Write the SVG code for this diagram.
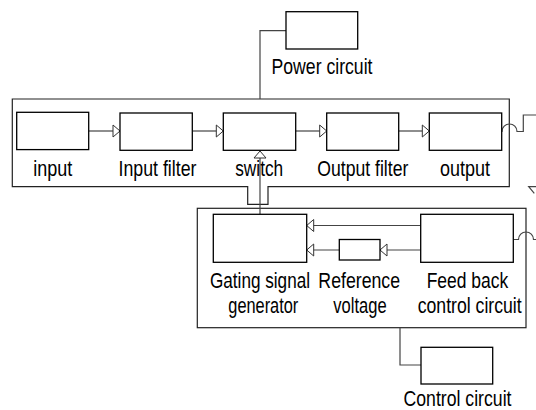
<svg xmlns="http://www.w3.org/2000/svg" width="536" height="410" viewBox="0 0 536 410">
<style>
.box{fill:#fff;stroke:#000;stroke-width:1.3}
.cont{fill:none;stroke:#222;stroke-width:1.2}
.ln{fill:none;stroke:#444;stroke-width:1.2}
.lbl{font-family:"Liberation Sans",Arial,sans-serif;font-size:21.5px;fill:#000;text-anchor:middle}
</style>
<defs>
<marker id="ah" markerUnits="userSpaceOnUse" markerWidth="10" markerHeight="15" refX="8" refY="7" orient="auto" viewBox="0 0 10 15">
<path d="M1,1 L8,7 L1,13 Z" fill="#fff" stroke="#333" stroke-width="1"/>
</marker>
</defs>
<rect width="536" height="410" fill="#fff"/>
<g id="power-container">
<path class="cont" d="M12.3,99 H509.3 V186.7 H268 V204.3 H247.7 V186.7 H12.3 Z"/>
</g>
<g id="control-container">
<rect class="cont" x="197.3" y="208.3" width="328.7" height="119.4"/>
</g>
<g id="connectors">
<path class="ln" d="M88.7,131 H120" marker-end="url(#ah)"/>
<path class="ln" d="M192.3,131 H223.3" marker-end="url(#ah)"/>
<path class="ln" d="M295.7,131 H326.7" marker-end="url(#ah)"/>
<path class="ln" d="M398.7,131 H429.3" marker-end="url(#ah)"/>
<path class="ln" d="M260,214.3 V151" marker-end="url(#ah)"/>
<path class="ln" d="M260,99 V30.7 H286"/>
<path class="ln" d="M420.7,225.5 H306.7" marker-end="url(#ah)"/>
<path class="ln" d="M420.7,250 H380" marker-end="url(#ah)"/>
<path class="ln" d="M339.3,250 H306.7" marker-end="url(#ah)"/>
<path class="ln" d="M400,327.7 V365 H421"/>
<path class="ln" d="M501.7,131.5 H502 A7.5,7.5 0 0 1 517,131.5 H523.3 V115 H536"/>
<path class="ln" d="M513.3,239.5 H518.5 A7.5,7.5 0 0 1 533.5,239.5 H536"/>
<path class="ln" d="M536,186.7 H528.7 L534.3,193.3"/>
</g>
<g id="power-circuit">
<rect class="box" x="286" y="11.7" width="71.7" height="37.3"/>
<text class="lbl" x="322" y="74" textLength="101" lengthAdjust="spacingAndGlyphs">Power circuit</text>
</g>
<g id="input">
<rect class="box" x="16.7" y="112.3" width="72" height="37.3"/>
<text class="lbl" x="52.8" y="176" textLength="39" lengthAdjust="spacingAndGlyphs">input</text>
</g>
<g id="input-filter">
<rect class="box" x="120" y="113" width="72.3" height="37.3"/>
<text class="lbl" x="157.5" y="176" textLength="78" lengthAdjust="spacingAndGlyphs">Input filter</text>
</g>
<g id="switch">
<rect class="box" x="223.3" y="113" width="72.4" height="37.3"/>
<text class="lbl" x="259.2" y="176" textLength="48" lengthAdjust="spacingAndGlyphs">switch</text>
</g>
<g id="output-filter">
<rect class="box" x="326.7" y="113" width="72" height="37.3"/>
<text class="lbl" x="362.8" y="176" textLength="91" lengthAdjust="spacingAndGlyphs">Output filter</text>
</g>
<g id="output">
<rect class="box" x="429.3" y="113" width="72.4" height="37.3"/>
<text class="lbl" x="465" y="176" textLength="50" lengthAdjust="spacingAndGlyphs">output</text>
</g>
<g id="gating-signal-generator">
<rect class="box" x="213.3" y="214.3" width="93.4" height="48"/>
<text class="lbl" x="260" y="288" textLength="100" lengthAdjust="spacingAndGlyphs">Gating signal</text>
<text class="lbl" x="263.3" y="312.5" textLength="70" lengthAdjust="spacingAndGlyphs">generator</text>
</g>
<g id="reference-voltage">
<rect class="box" x="339.3" y="239.5" width="40.7" height="20.5"/>
<text class="lbl" x="359.2" y="288" textLength="81.7" lengthAdjust="spacingAndGlyphs">Reference</text>
<text class="lbl" x="360" y="312.5" textLength="53.3" lengthAdjust="spacingAndGlyphs">voltage</text>
</g>
<g id="feedback-control-circuit">
<rect class="box" x="420.7" y="214.3" width="92.6" height="48"/>
<text class="lbl" x="467.5" y="288" textLength="81.6" lengthAdjust="spacingAndGlyphs">Feed back</text>
<text class="lbl" x="469.7" y="312.5" textLength="104" lengthAdjust="spacingAndGlyphs">control circuit</text>
</g>
<g id="control-circuit">
<rect class="box" x="421" y="347.3" width="71.7" height="36.7"/>
<text class="lbl" x="457.5" y="406" textLength="108" lengthAdjust="spacingAndGlyphs">Control circuit</text>
</g>
</svg>
